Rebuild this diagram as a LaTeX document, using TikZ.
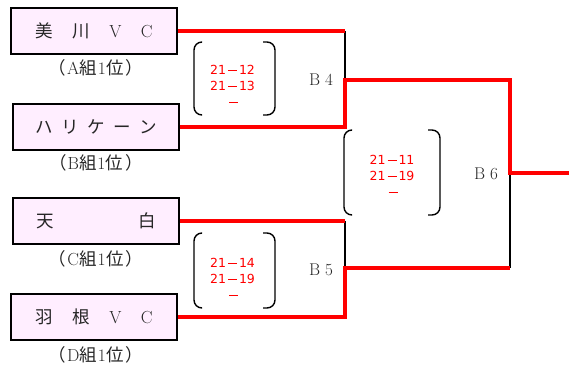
\documentclass[tikz,border=0pt]{standalone}
\usepackage{fontspec}
\newfontfamily\cjk{Noto Sans CJK JP}
\newfontfamily\scorefont{DejaVu Sans}
\definecolor{boxpink}{HTML}{FFEEFF}
\definecolor{winred}{HTML}{FF0000}
\newcommand{\sdash}{\hspace{2pt}\raisebox{3.8pt}{\rule{9pt}{1.1pt}}\hspace{2pt}}
\newcommand{\grplabel}[1]{{\cjk （}\kern1pt#1\kern0.5pt{\cjk 組}\kern0.5pt1\kern0.5pt{\cjk 位}\kern2pt{\cjk ）}}
\begin{document}
\begin{tikzpicture}[x=1pt,y=-1pt,
  team/.style={draw=black,line width=1.6pt,fill=boxpink,minimum width=166pt,minimum height=46pt,inner sep=0pt,text=black!85,font=\fontsize{17.5}{19}\selectfont},
  grp/.style={font=\fontsize{17.5}{19}\selectfont,inner sep=0pt,text=black!85},
  score/.style={text=winred,font=\scorefont\fontsize{12.5}{16}\selectfont,align=center,inner sep=0pt},
  rnd/.style={font=\fontsize{17}{18}\selectfont,inner sep=0pt,text=black!85},
  redline/.style={draw=winred,line width=4pt},
  blackline/.style={draw=black,line width=1.3pt},
  paren/.style={draw=black,line width=1.4pt,rounded corners=8pt}]
\useasboundingbox (0,0) rectangle (569,367);
% teams
\node[team] (t1) at (94,31) {\makebox[117pt][s]{{\cjk 美}\hfill{\cjk 川}\hfill V\hfill C}};
\node[team] (t2) at (96,127) {\makebox[122pt][s]{\cjk ハ\hfill リ\hfill ケ\hfill ー\hfill ン}};
\node[team] (t3) at (96,221) {\makebox[120pt][s]{\cjk 天\hfill 白}};
\node[team] (t4) at (94,317) {\makebox[117pt][s]{{\cjk 羽}\hfill{\cjk 根}\hfill V\hfill C}};
\node[grp] (g1) at (96,68) {\grplabel{A}};
\node[grp] (g2) at (96,163) {\grplabel{B}};
\node[grp] (g3) at (96,259) {\grplabel{C}};
\node[grp] (g4) at (96,355) {\grplabel{D}};
% junction coordinates
\coordinate (a1) at (345,31);
\coordinate (a2) at (345,127);
\coordinate (am) at (345,80);
\coordinate (c1) at (345,221);
\coordinate (c2) at (345,317);
\coordinate (cm) at (345,268);
\coordinate (f1) at (510,80);
\coordinate (f2) at (510,268);
\coordinate (fm) at (510,173);
\coordinate (out) at (569,173);
% black verticals
\draw[blackline] (a1) -- (am);
\draw[blackline] (c1) -- (cm);
\draw[blackline] (f2) -- (fm);
% red lines
\draw[redline] (t1.east) -- (a1);
\draw[redline] (t2.east) -- (a2) -- (am) -- (f1) -- (fm) -- (out);
\draw[redline] (t3.east) -- (c1);
\draw[redline] (t4.east) -- (c2) -- (cm) -- (f2);
% brackets
\draw[paren] (201,42) -- (194,42) -- (194,115) -- (201,115);
\draw[paren] (263,42) -- (275,42) -- (275,115) -- (263,115);
\draw[paren] (201,233) -- (194,233) -- (194,308) -- (201,308);
\draw[paren] (263,233) -- (275,233) -- (275,308) -- (263,308);
\draw[paren] (351,130) -- (344,130) -- (344,215) -- (351,215);
\draw[paren] (428,130) -- (440,130) -- (440,215) -- (428,215);
% scores
\node[score] (s1) at (232.5,86) {21\sdash12\\21\sdash13\\\sdash};
\node[score] (s2) at (232.5,279) {21\sdash14\\21\sdash19\\\sdash};
\node[score] (s3) at (392,176) {21\sdash11\\21\sdash19\\\sdash};
% round labels
\node[rnd] (r1) at (321,80) {B\hspace{5pt}4};
\node[rnd] (r2) at (321,270) {B\hspace{5pt}5};
\node[rnd] (r3) at (486,174) {B\hspace{5pt}6};
\end{tikzpicture}
\end{document}
